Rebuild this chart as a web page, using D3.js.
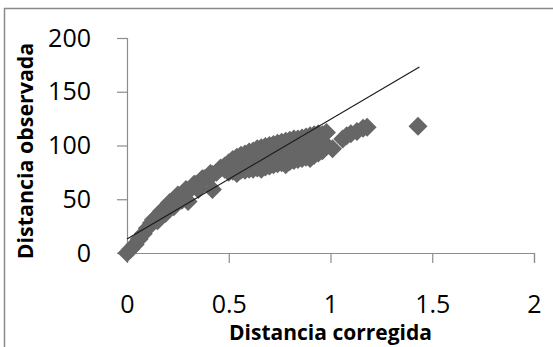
<!DOCTYPE html>
<html>
<head>
<meta charset="utf-8">
<script src="https://cdn.jsdelivr.net/npm/d3@7"></script>
<style>
  body { margin: 0; background: #fff; }
  svg { display: block; }
</style>
</head>
<body>
<div id="chart"></div>
<script>
// distancia corregida (x) / distancia observada (y)
const corrX = [
  // lower curve
  0.00, 0.02, 0.04, 0.06, 0.08, 0.10, 0.12, 0.14, 0.16, 0.18, 0.20, 0.22, 0.24, 0.26, 0.28, 0.30,
  0.32, 0.34, 0.36, 0.38, 0.40, 0.42, 0.44,
  0.13, 0.17, 0.21, 0.25, 0.29, 0.33, 0.37, 0.41,
  0.15, 0.19, 0.23, 0.27, 0.35,
  0.30, 0.42,
  // upper edge of the band
  0.46, 0.48, 0.50, 0.52, 0.54, 0.56, 0.58, 0.60, 0.62, 0.64, 0.66, 0.68, 0.70, 0.72, 0.74,
  0.76, 0.78, 0.80, 0.82, 0.84, 0.86, 0.88, 0.90, 0.92, 0.94, 0.96,
  // middle of the band
  0.48, 0.52, 0.56, 0.60, 0.64, 0.68, 0.72, 0.76, 0.80, 0.84, 0.88, 0.92, 0.96,
  // lower edge of the band
  0.50, 0.52, 0.54, 0.56, 0.58, 0.60, 0.62, 0.64, 0.66, 0.68, 0.70, 0.72, 0.74,
  0.76, 0.78, 0.80, 0.82, 0.84, 0.86, 0.88, 0.90, 0.92, 0.94, 0.96,
  // around 1 and beyond
  0.98, 1.01, 1.06, 1.08, 1.10, 1.13, 1.16, 1.18, 1.43
];
const obsY = [
  0, 4, 8, 13, 18, 23, 28, 32, 36, 40, 44, 47, 50, 53, 56, 58,
  61, 64, 66, 69, 71, 73, 75,
  31, 39, 47, 54, 59, 64, 69, 74,
  30, 37, 43, 49, 59,
  48, 59,
  79, 81, 84, 87, 89, 91, 92, 94, 95, 97, 98, 99, 100, 101, 102,
  103, 104, 105, 106, 106, 107, 108, 109, 110, 111, 110,
  78, 81, 84, 86, 88, 90, 92, 94, 96, 98, 100, 102, 104,
  75, 76, 74, 77, 77, 78, 78, 79, 78, 80, 81, 82, 83,
  84, 82, 85, 86, 87, 88, 89, 88, 91, 93, 95,
  112, 97, 106, 109, 111, 113, 116, 117, 118
];
// linear trend line end points
const trendX = [0, 1.437];
const trendY = [13, 173];

const xTicks = [0, 0.5, 1, 1.5, 2];
const yTicks = [0, 50, 100, 150, 200];

const W = 553, H = 347;
const margin = { top: 38, right: 19, bottom: 94, left: 127 };

const svg = d3.select('#chart').append('svg')
  .attr('width', W)
  .attr('height', H);

// outer frame
svg.append('path')
  .attr('d', 'M4.5,' + H + ' L4.5,8.5 L' + W + ',8.5')
  .attr('fill', 'none')
  .attr('stroke', '#8a8a8a')
  .attr('stroke-width', 1.5);

const x = d3.scaleLinear().domain([0, 2]).range([margin.left, W - margin.right]);
const y = d3.scaleLinear().domain([0, 200]).range([H - margin.bottom, margin.top]);

const fontFam = "'Open Sans', 'DejaVu Sans', sans-serif";

const xAxis = svg.append('g')
  .attr('transform', 'translate(0,' + y(0) + ')')
  .call(d3.axisBottom(x).tickValues(xTicks).tickSize(10).tickPadding(30).tickFormat(d3.format('')));

const yAxis = svg.append('g')
  .attr('transform', 'translate(' + x(0) + ',0)')
  .call(d3.axisLeft(y).tickValues(yTicks).tickSize(10).tickPadding(26).tickFormat(d3.format('')));

[xAxis, yAxis].forEach(function (g) {
  g.select('.domain').attr('stroke', '#8c8c8c').attr('stroke-width', 1.2);
  g.selectAll('.tick line').attr('stroke', '#8c8c8c').attr('stroke-width', 1.2);
  g.selectAll('.tick text')
    .attr('fill', '#000')
    .style('font-family', fontFam)
    .style('font-size', '25px');
});
xAxis.selectAll('.tick text').attr('dy', '0').attr('y', 60);

// points
const pts = corrX.map(function (d, i) { return [d, obsY[i]]; });
svg.append('g')
  .selectAll('path')
  .data(pts)
  .enter()
  .append('path')
  .attr('d', d3.symbol().type(d3.symbolSquare).size(180))
  .attr('transform', function (d) { return 'translate(' + x(d[0]) + ',' + y(d[1]) + ') rotate(45)'; })
  .attr('fill', '#666666');

// trend line
svg.append('line')
  .attr('x1', x(trendX[0]))
  .attr('y1', y(trendY[0]))
  .attr('x2', x(trendX[1]))
  .attr('y2', y(trendY[1]))
  .attr('stroke', '#1a1a1a')
  .attr('stroke-width', 1.2);

// axis titles
svg.append('text')
  .attr('x', (x(0) + x(2)) / 2)
  .attr('y', 340)
  .attr('text-anchor', 'middle')
  .style('font-family', fontFam)
  .style('font-weight', 'bold')
  .style('font-size', '21px')
  .text('Distancia corregida');

svg.append('text')
  .attr('transform', 'translate(33,151) rotate(-90)')
  .attr('text-anchor', 'middle')
  .style('font-family', fontFam)
  .style('font-weight', 'bold')
  .style('font-size', '21.4px')
  .text('Distancia observada');
</script>
</body>
</html>
